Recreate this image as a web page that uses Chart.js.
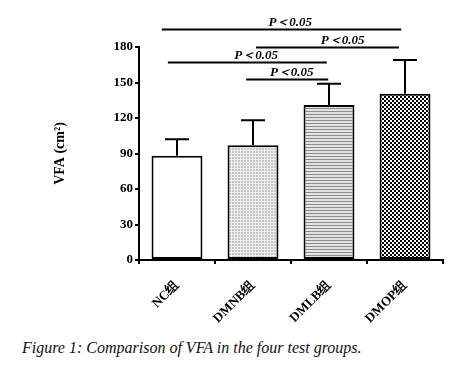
<!DOCTYPE html>
<html>
<head>
<meta charset="utf-8">
<script src="https://cdn.jsdelivr.net/npm/chart.js@4/dist/chart.umd.min.js"></script>
<style>
  html, body { margin: 0; padding: 0; background: #fff; }
  #wrap { position: relative; width: 457px; height: 372px; }
  #chart { position: absolute; left: 0; top: 0; }
  #caption {
    position: absolute; left: 22px; top: 339px;
    font: italic 16px "Liberation Serif", serif; color: #111;
    white-space: nowrap;
  }
</style>
</head>
<body>
<div id="wrap">
  <canvas id="chart" width="457" height="330"></canvas>
  <div id="caption">Figure 1: Comparison of VFA in the four test groups.</div>
</div>
<script>
// data
const groups = ['NC组', 'DMNB组', 'DMLB组', 'DMOP组'];
const vfaMean = [88, 97, 131, 140.5];
const vfaUpper = [102, 118, 149, 169];   // top of error bar
const yTicks = [0, 30, 60, 90, 120, 150, 180];

// significance brackets: category positions (fractional) + y level in data units
const sigFrom = [-0.2, 1.04, -0.12, 0.91];
const sigTo = [2.95, 2.92, 1.97, 1.99];
const sigLevel = [195, 180, 167.3, 153];
const sigLabelAt = [1.49, 2.18, 1.04, 1.51];
const sigText = ['P＜0.05', 'P＜0.05', 'P＜0.05', 'P＜0.05'];

function makePattern(w, h, draw) {
  const c = document.createElement('canvas');
  c.width = w; c.height = h;
  const g = c.getContext('2d');
  draw(g);
  return document.getElementById('chart').getContext('2d').createPattern(c, 'repeat');
}

const fills = [
  '#ffffff',
  makePattern(3, 3, g => {
    g.fillStyle = '#c4c4c4'; g.fillRect(0, 0, 3, 3);
    g.fillStyle = '#f0f0f0'; g.fillRect(0, 0, 3, 1); g.fillRect(0, 0, 1, 3);
  }),
  makePattern(4, 3, g => {
    g.fillStyle = '#e2e2e2'; g.fillRect(0, 0, 4, 3);
    g.fillStyle = '#8c8c8c'; g.fillRect(0, 0, 4, 1);
  }),
  makePattern(4, 4, g => {
    g.fillStyle = '#ffffff'; g.fillRect(0, 0, 4, 4);
    g.fillStyle = '#000000'; g.fillRect(0, 0, 2, 2); g.fillRect(2, 2, 2, 2);
  })
];

const extras = {
  id: 'extras',
  afterDatasetsDraw(chart) {
    const ctx = chart.ctx;
    const x = chart.scales.x, y = chart.scales.y;
    ctx.save();
    ctx.strokeStyle = '#000';
    ctx.lineWidth = 2;
    // error bars (upper only)
    vfaMean.forEach((m, i) => {
      const cx = x.getPixelForValue(i);
      const y0 = y.getPixelForValue(m);
      const y1 = y.getPixelForValue(vfaUpper[i]);
      ctx.beginPath();
      ctx.moveTo(cx, y0); ctx.lineTo(cx, y1);
      ctx.moveTo(cx - 12, y1); ctx.lineTo(cx + 12, y1);
      ctx.stroke();
    });
    // significance lines
    const step = x.getPixelForValue(1) - x.getPixelForValue(0);
    const px = v => x.getPixelForValue(0) + v * step;
    ctx.font = 'italic bold 13px "Liberation Serif", serif';
    ctx.textAlign = 'center';
    ctx.textBaseline = 'alphabetic';
    ctx.fillStyle = '#000';
    sigLevel.forEach((lv, i) => {
      const yy = Math.round(y.getPixelForValue(lv)) + 0.5;
      ctx.beginPath();
      ctx.moveTo(px(sigFrom[i]), yy);
      ctx.lineTo(px(sigTo[i]), yy);
      ctx.stroke();
      ctx.fillText(sigText[i], px(sigLabelAt[i]), yy - 4);
    });
    ctx.restore();
  }
};

new Chart(document.getElementById('chart'), {
  type: 'bar',
  data: {
    labels: groups,
    datasets: [{
      data: vfaMean,
      backgroundColor: fills,
      borderColor: '#000',
      borderWidth: 2,
      borderSkipped: false,
      categoryPercentage: 1,
      barPercentage: 0.67
    }]
  },
  options: {
    responsive: false,
    animation: false,
    layout: { padding: { left: 0, top: 47, right: 14, bottom: 0 } },
    plugins: { legend: { display: false }, tooltip: { enabled: false } },
    scales: {
      x: {
        grid: { drawOnChartArea: false, drawTicks: true, tickLength: 4, color: '#000', lineWidth: 2 },
        border: { color: '#000', width: 2 },
        ticks: {
          color: '#000', minRotation: 45, maxRotation: 45, padding: 14,
          font: { family: '"Liberation Serif", serif', size: 13, weight: 'bold' }
        },
        afterFit(s) { s.height = 70; }
      },
      y: {
        min: 0, max: 180,
        afterBuildTicks(s) { s.ticks = yTicks.map(v => ({ value: v })); },
        grid: { drawOnChartArea: false, drawTicks: true, tickLength: 4, color: '#000', lineWidth: 2 },
        border: { color: '#000', width: 2 },
        ticks: {
          color: '#000', padding: 2,
          font: { family: '"Liberation Serif", serif', size: 13, weight: 'bold' }
        },
        title: {
          display: true, text: 'VFA (cm²)', color: '#000',
          padding: { top: 52, bottom: 0 },
          font: { family: '"Liberation Serif", serif', size: 14, weight: 'bold' }
        },
        afterFit(s) { s.width = 139; }
      }
    }
  },
  plugins: [extras]
});
</script>
</body>
</html>
